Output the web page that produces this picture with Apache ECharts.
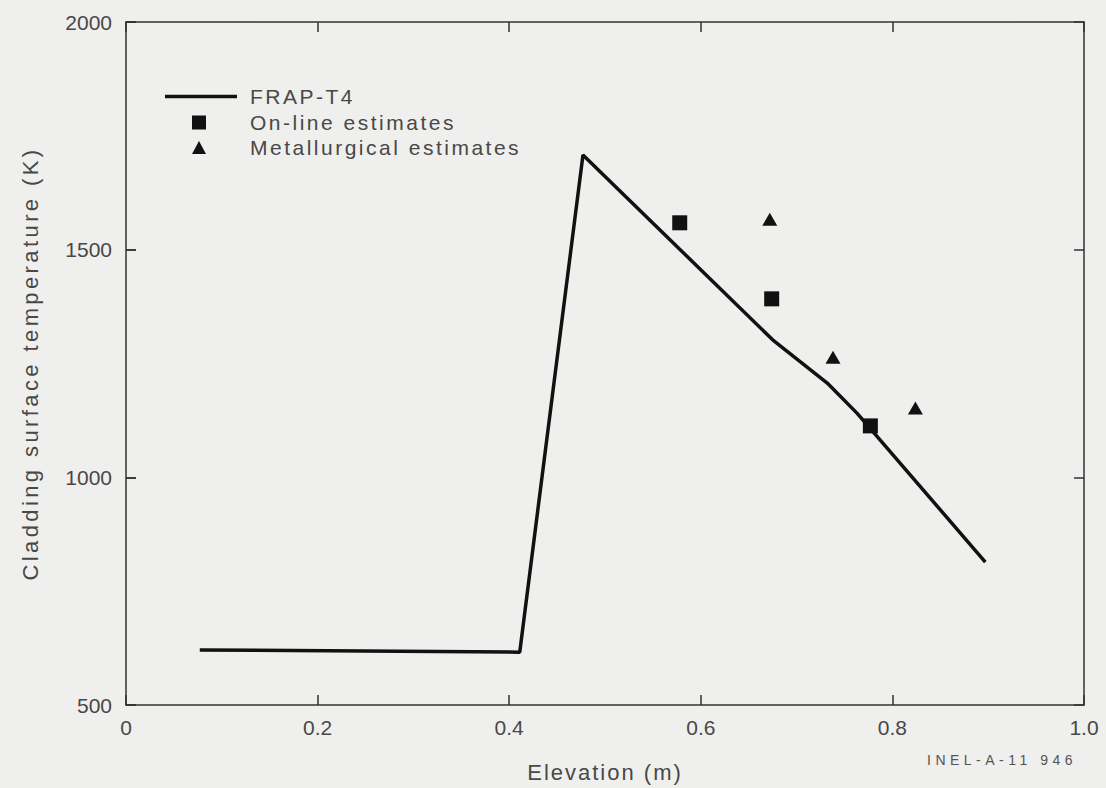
<!DOCTYPE html>
<html>
<head>
<meta charset="utf-8">
<script src="https://cdn.jsdelivr.net/npm/echarts@6/dist/echarts.min.js"></script>
<style>
  html, body { margin: 0; padding: 0; background: #efefed; }
  #chart { width: 1106px; height: 788px; }
  /* the scanned lettering is set wide, so space out the svg text a bit */
  #chart text[style*="Arial"], #chart text[font-family*="Arial"] { letter-spacing: 2.5px; }
  #chart text[style*="Helvetica"], #chart text[font-family*="Helvetica"] { letter-spacing: 3.4px; }
  #chart text[style*="Verdana"], #chart text[font-family*="Verdana"] { letter-spacing: 2px; }
  #chart text[style*="Tahoma"], #chart text[font-family*="Tahoma"] { letter-spacing: 4.5px; }
</style>
</head>
<body>
<div id="chart"></div>
<script>
// FRAP-T4 calculated cladding temperature profile
const frapElevation = [0.077, 0.411, 0.477, 0.675, 0.732, 0.763, 0.897]
const frapTemp = [621, 616, 1708, 1302, 1207, 1141, 814]

// estimates
const onlineElevation = [0.578, 0.674, 0.777]
const onlineTemp = [1559, 1392, 1113]
const metalElevation = [0.672, 0.738, 0.824]
const metalTemp = [1567, 1264, 1152]

const tickFont = 'Liberation Sans'
const legendFont = '"Liberation Sans", Arial'
const xNameFont = '"Liberation Sans", Verdana'
const yNameFont = '"Liberation Sans", Helvetica'
const noteFont = '"Liberation Sans", Tahoma'
const ink = '#111'
const textColor = '#484848'

const zip = (xs, ys) => xs.map((x, i) => [x, ys[i]])

// onZero off, otherwise the y axes snap to x = 0
const axisLine = () => ({ show: true, onZero: false, lineStyle: { color: '#333', width: 1.5 } })
const axisTick = () => ({ show: true, inside: true, length: 10, lineStyle: { color: '#333', width: 1.5 } })
const tempRange = { type: 'value', min: 500, max: 2000, interval: 500 }

const chart = echarts.init(document.getElementById('chart'), null, { renderer: 'svg' })

const legendText = { fontFamily: legendFont, fontSize: 21, color: textColor }

chart.setOption({
  backgroundColor: '#efefed',
  animation: false,
  grid: [
    { left: 126, right: 22, top: 22, bottom: 83, outerBoundsMode: 'none' },
    // helper grid ending at the left frame; its right axis carries the left inward ticks
    { left: 0, width: 126, top: 22, bottom: 83, outerBoundsMode: 'none' }
  ],
  legend: [{
    left: 165, top: 86, padding: 0,
    itemWidth: 72, itemHeight: 3.5,
    textStyle: { ...legendText, padding: [0, 0, 0, 8] },
    data: [{ name: 'FRAP-T4', icon: 'rect' }]
  }, {
    left: 192, top: 112, padding: 0,
    itemWidth: 14, itemHeight: 14,
    textStyle: { ...legendText, padding: [0, 0, 0, 39] },
    data: [{ name: 'On-line estimates', icon: 'rect' }]
  }, {
    left: 192, top: 137, padding: 0,
    itemWidth: 14, itemHeight: 13,
    textStyle: { ...legendText, padding: [0, 0, 0, 39] },
    data: [{ name: 'Metallurgical estimates', icon: 'triangle' }]
  }],
  xAxis: [{
    type: 'value',
    min: 0,
    max: 1,
    interval: 0.2,
    name: 'Elevation (m)',
    nameLocation: 'middle',
    nameGap: 56,
    nameTextStyle: { fontFamily: xNameFont, fontSize: 22, color: textColor },
    axisLine: axisLine(), axisTick: axisTick(),
    splitLine: { show: false },
    axisLabel: {
      fontFamily: tickFont, fontSize: 21, color: textColor, margin: 12,
      formatter: v => (v === 0 ? '0' : v === 1 ? '1.0' : String(+v.toFixed(1)))
    }
  }, {
    type: 'value',
    position: 'top',
    min: 0,
    max: 1,
    interval: 0.2,
    axisLine: axisLine(), axisTick: axisTick(),
    splitLine: { show: false },
    axisLabel: { show: false }
  }, {
    type: 'value', gridIndex: 1, min: 0, max: 1, show: false
  }],
  yAxis: [{
    ...tempRange,
    position: 'left',
    z: 10,
    name: 'Cladding surface temperature (K)',
    nameLocation: 'middle',
    nameGap: 85,
    nameTextStyle: { fontFamily: yNameFont, fontSize: 22, color: textColor },
    axisLine: axisLine(), axisTick: axisTick(),
    splitLine: { show: false },
    axisLabel: {
      fontFamily: tickFont, fontSize: 21, color: textColor, margin: 14,
      formatter: v => String(v)
    }
  }, {
    ...tempRange,
    position: 'right',
    axisLine: axisLine(), axisTick: axisTick(),
    splitLine: { show: false }, axisLabel: { show: false }
  }, {
    ...tempRange,
    gridIndex: 1,
    position: 'right',
    z: 10,
    axisLine: { show: false, onZero: false },
    axisTick: { show: true, inside: false, length: 10, lineStyle: { color: '#333', width: 1.5 } },
    splitLine: { show: false }, axisLabel: { show: false }
  }],
  graphic: [{
    type: 'text',
    left: 927,
    top: 753,
    style: { text: 'INEL-A-11 946', font: '14px ' + noteFont, fill: '#555' }
  }],
  series: [
    {
      name: 'FRAP-T4',
      type: 'line',
      data: zip(frapElevation, frapTemp),
      symbol: 'none',
      lineStyle: { color: ink, width: 3.5 },
      itemStyle: { color: ink }
    },
    {
      name: 'On-line estimates',
      type: 'scatter',
      data: zip(onlineElevation, onlineTemp),
      symbol: 'rect',
      symbolSize: 15,
      itemStyle: { color: ink, opacity: 1 },
      z: 3
    },
    {
      name: 'Metallurgical estimates',
      type: 'scatter',
      data: zip(metalElevation, metalTemp),
      symbol: 'triangle',
      symbolSize: [15, 13],
      itemStyle: { color: ink, opacity: 1 },
      z: 3
    }
  ]
})
</script>
</body>
</html>
